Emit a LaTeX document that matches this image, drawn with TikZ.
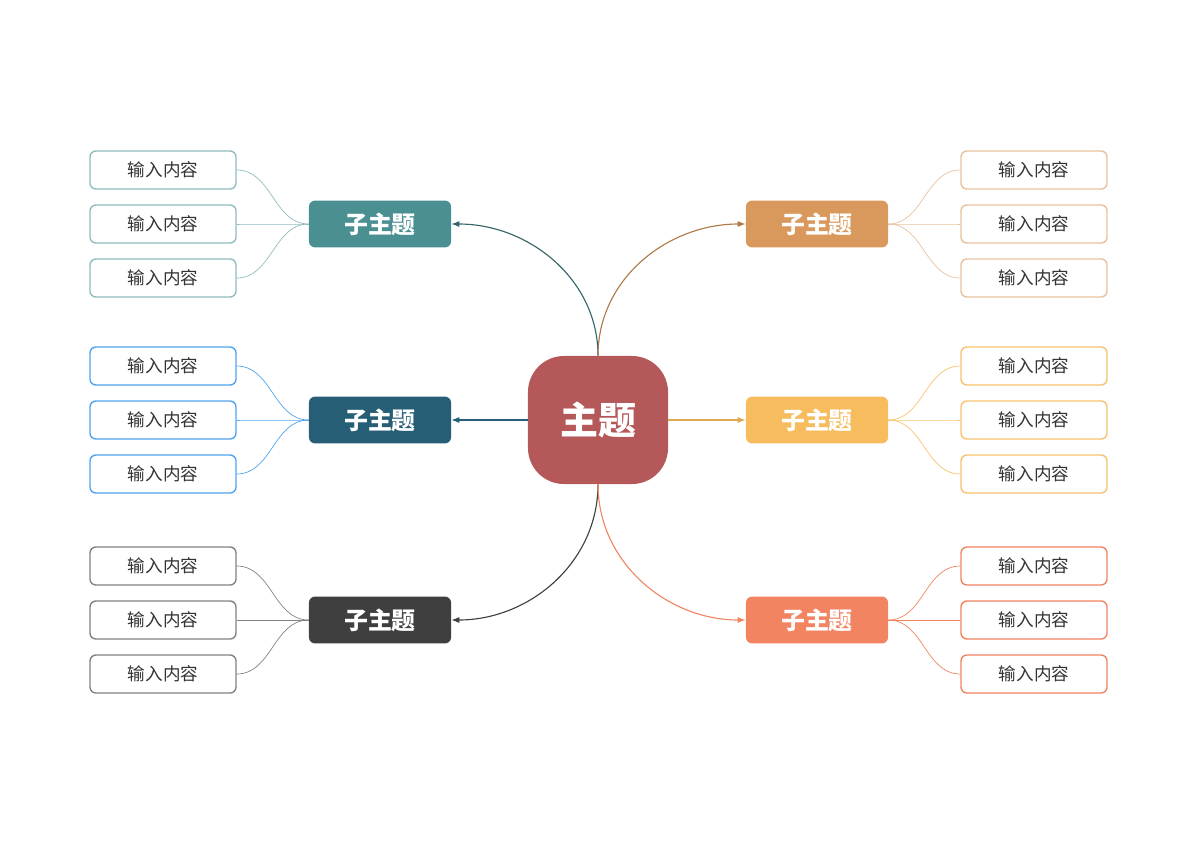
\documentclass[tikz,border=0pt]{standalone}
\usepackage{fontspec}
\newfontfamily\cjk{Noto Sans CJK SC}
\usetikzlibrary{arrows.meta}
\definecolor{hauptrot}{HTML}{B5585A}
\definecolor{tuerkis}{HTML}{4A9093}
\definecolor{petrol}{HTML}{265F75}
\definecolor{anthrazit}{HTML}{3F3F3F}
\definecolor{sand}{HTML}{D9995C}
\definecolor{gelb}{HTML}{F6BC5D}
\definecolor{lachs}{HTML}{F28462}
\tikzset{
  haupt/.style={fill=hauptrot, rounded corners=0.9cm, minimum width=3.5cm, minimum height=3.2cm, text=white, font=\cjk\bfseries\fontsize{27}{30}\selectfont},
  zweig/.style={fill=#1, rounded corners=0.15cm, minimum width=3.55cm, minimum height=1.17cm, text=white, font=\cjk\bfseries\fontsize{17}{20}\selectfont},
  blatt/.style={draw=#1, line width=1pt, fill=white, rounded corners=0.15cm, minimum width=3.65cm, minimum height=0.95cm, text=black!80, font=\cjk\fontsize{12.5}{15}\selectfont},
  pfeil/.style={draw=#1, line width=0.8pt, -{Latex[length=2mm]}},
  linie/.style={draw=#1!70, line width=0.5pt}
}
\begin{document}
\begin{tikzpicture}[x=0.025cm,y=-0.025cm]
  \useasboundingbox (0,0) rectangle (1200,848);

  % Hauptthema
  \node[haupt] (main) at (598,420) {主题};

  % Unterthemen
  \node[zweig=tuerkis] (lo) at (380,224) {子主题};
  \node[zweig=petrol] (lm) at (380,420) {子主题};
  \node[zweig=anthrazit] (lu) at (380,620) {子主题};
  \node[zweig=sand] (ro) at (817,224) {子主题};
  \node[zweig=gelb] (rm) at (817,420) {子主题};
  \node[zweig=lachs] (ru) at (817,620) {子主题};

  % Pfeile vom Hauptthema
  \draw[pfeil=tuerkis!70!black] (main.north) to[out=90,in=0] (lo.east);
  \draw[pfeil=petrol] (main.west) -- (lm.east);
  \draw[pfeil=anthrazit] (main.south) to[out=-90,in=0] (lu.east);
  \draw[pfeil=sand!80!black] (main.north) to[out=90,in=180] (ro.west);
  \draw[pfeil=gelb!90!black] (main.east) -- (rm.west);
  \draw[pfeil=lachs] (main.south) to[out=-90,in=180] (ru.west);

  % Blaetter links
  \foreach \z/\y/\f in {lo/224/tuerkis!60, lm/420/petrol!30!cyan!60!blue!70, lu/620/anthrazit!65}{
    \foreach \d [count=\i] in {-54,0,54}{
      \node[blatt=\f] (\z\i) at (163,\y+\d) {输入内容};
      \draw[draw=\f, line width=0.5pt] (\z.west) to[out=180,in=0] (\z\i.east);
    }
  }
  % Blaetter rechts
  \foreach \z/\y/\f in {ro/224/sand!60, rm/420/gelb!90, ru/620/lachs}{
    \foreach \d [count=\i] in {-54,0,54}{
      \node[blatt=\f] (\z\i) at (1034,\y+\d) {输入内容};
      \draw[draw=\f, line width=0.5pt] (\z.east) to[out=0,in=180] (\z\i.west);
    }
  }
\end{tikzpicture}
\end{document}
